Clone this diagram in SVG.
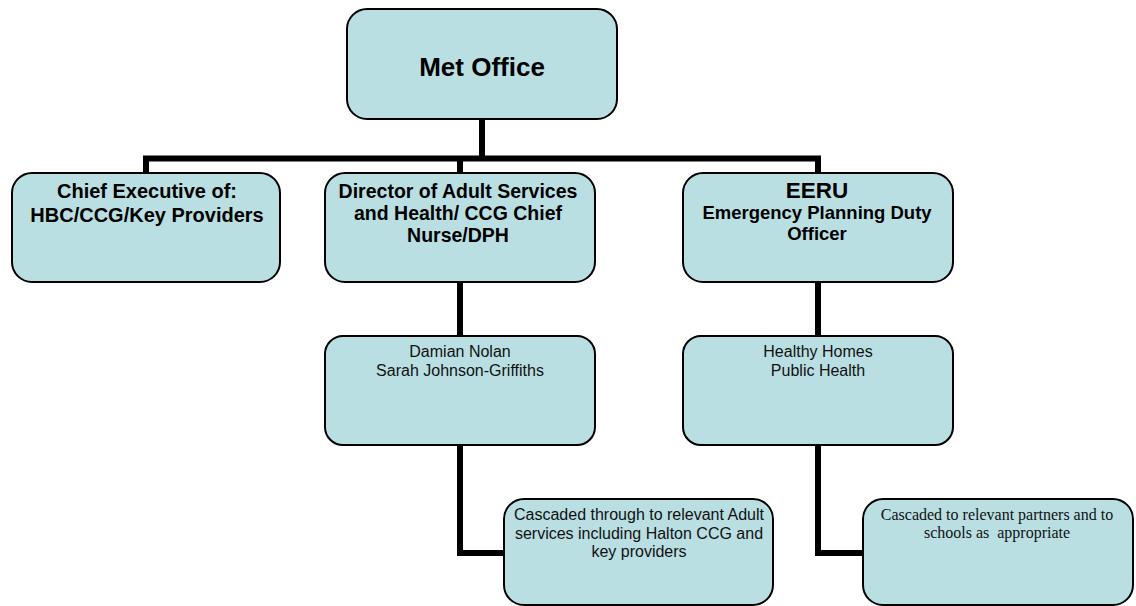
<svg xmlns="http://www.w3.org/2000/svg" width="1136" height="606" viewBox="0 0 1136 606">
<style>
.box{fill:#b9dfe3;stroke:#000;stroke-width:2}
.conn{fill:none;stroke:#000;stroke-width:6;stroke-linejoin:miter}
.b{font-family:"Liberation Sans",Arial,sans-serif;font-weight:bold;fill:#000;text-anchor:middle}
.r{font-family:"Liberation Sans",Arial,sans-serif;fill:#111;text-anchor:middle;font-size:16px}
.t{font-family:"Liberation Serif","Times New Roman",serif;fill:#111;text-anchor:middle;font-size:16px}
</style>
<rect width="1136" height="606" fill="#fff"/>
<g id="connectors">
<path class="conn" d="M482 119 V158.5"/>
<path class="conn" d="M146 172 V158.5 H818 V172"/>
<path class="conn" d="M460 158.5 V173"/>
<path class="conn" d="M460 282 V336"/>
<path class="conn" d="M818 282 V336"/>
<path class="conn" d="M460 445 V553 H504"/>
<path class="conn" d="M818 445 V553 H863"/>
</g>
<g id="met-office">
<rect class="box" x="347" y="9" width="270" height="110" rx="20"/>
<text class="b" x="482" y="76" font-size="26">Met Office</text>
</g>
<g id="chief-executive">
<rect class="box" x="12" y="173" width="268" height="109" rx="20"/>
<text class="b" x="147" y="198" font-size="20">Chief Executive of:</text>
<text class="b" x="147" y="221.5" font-size="20">HBC/CCG/Key Providers</text>
</g>
<g id="director">
<rect class="box" x="325" y="173" width="270" height="109" rx="20"/>
<text class="b" x="458" y="197.5" font-size="19.5">Director of Adult Services</text>
<text class="b" x="458" y="219.5" font-size="19.5">and Health/ CCG Chief</text>
<text class="b" x="458" y="241.5" font-size="19.5">Nurse/DPH</text>
</g>
<g id="eeru">
<rect class="box" x="683" y="173" width="270" height="109" rx="20"/>
<text class="b" x="817" y="198" font-size="22.5">EERU</text>
<text class="b" x="817" y="219" font-size="18.5">Emergency Planning Duty</text>
<text class="b" x="817" y="240" font-size="18.5">Officer</text>
</g>
<g id="damian-nolan">
<rect class="box" x="325" y="336" width="270" height="109" rx="18"/>
<text class="r" x="460" y="357">Damian Nolan</text>
<text class="r" x="460" y="376">Sarah Johnson-Griffiths</text>
</g>
<g id="healthy-homes">
<rect class="box" x="683" y="336" width="270" height="109" rx="18"/>
<text class="r" x="818" y="357">Healthy Homes</text>
<text class="r" x="818" y="376">Public Health</text>
</g>
<g id="cascaded-adult">
<rect class="box" x="504" y="499" width="269" height="106" rx="20"/>
<text class="r" x="639" y="520">Cascaded through to relevant Adult</text>
<text class="r" x="639" y="539">services including Halton CCG and</text>
<text class="r" x="639" y="557">key providers</text>
</g>
<g id="cascaded-partners">
<rect class="box" x="863" y="499" width="270" height="106" rx="20"/>
<text class="t" x="997" y="520">Cascaded to relevant partners and to</text>
<text class="t" x="997" y="538" xml:space="preserve">schools as  appropriate</text>
</g>
</svg>
